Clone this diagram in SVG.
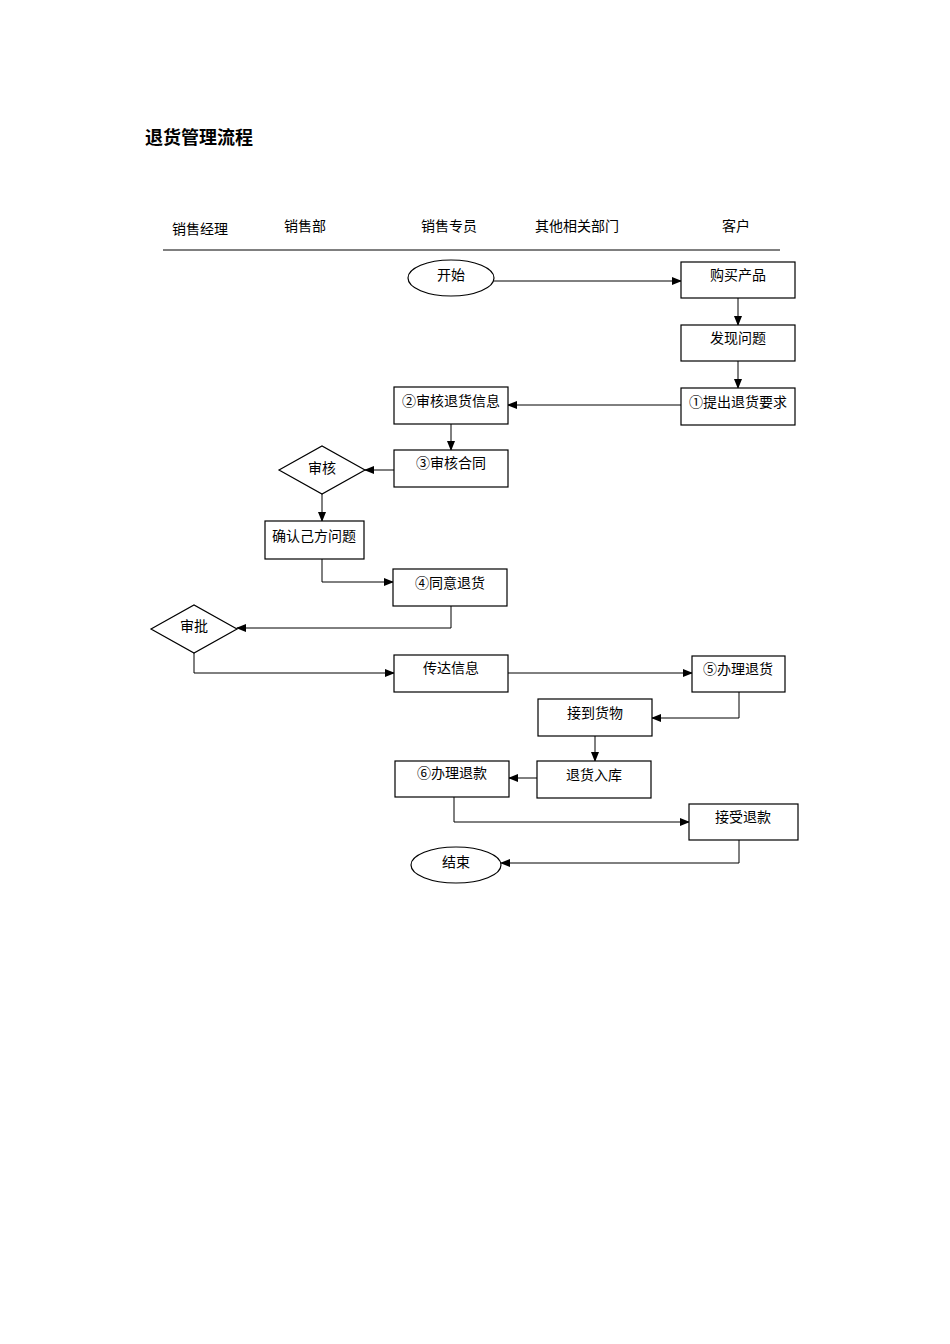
<svg xmlns="http://www.w3.org/2000/svg" width="950" height="1344" viewBox="0 0 950 1344">
<style>
text{font-family:"Liberation Serif","Noto Sans CJK SC",serif;font-size:14px;fill:#000}
.n{fill:#fff;stroke:#000;stroke-width:1.2}
.c{fill:none;stroke:#000;stroke-width:1}
.t{text-anchor:middle}
</style>
<defs><marker id="a" markerWidth="10" markerHeight="8" refX="9" refY="4" orient="auto" markerUnits="userSpaceOnUse"><path d="M0,0L10,4L0,8z" fill="#000"/></marker></defs>
<rect width="950" height="1344" fill="#fff"/>
<text x="145" y="144" style="font-size:18px;font-weight:bold">退货管理流程</text>
<g id="header">
<text x="172" y="234">销售经理</text><text x="284" y="231">销售部</text><text x="421" y="231">销售专员</text><text x="535" y="231">其他相关部门</text><text x="722" y="231">客户</text>
<line x1="163" y1="250" x2="780" y2="250" stroke="#000"/>
</g>
<g id="connectors" marker-end="url(#a)">
<path class="c" d="M494,281H681"/>
<path class="c" d="M738,298V325"/>
<path class="c" d="M738,361V388"/>
<path class="c" d="M681,405H508"/>
<path class="c" d="M451,424V450"/>
<path class="c" d="M394,470H365"/>
<path class="c" d="M322,494V521"/>
<path class="c" d="M322,559V582H393"/>
<path class="c" d="M451,606V628H237"/>
<path class="c" d="M194,653V673H394"/>
<path class="c" d="M508,673H692"/>
<path class="c" d="M739,692V718H652"/>
<path class="c" d="M595,736V761"/>
<path class="c" d="M537,778H509"/>
<path class="c" d="M454,797V822H689"/>
<path class="c" d="M739,840V863H501"/>
</g>
<g id="start"><ellipse class="n" cx="451" cy="278" rx="43" ry="18"/><text class="t" x="451" y="280">开始</text></g>
<g id="buy"><rect class="n" x="681" y="262" width="114" height="36"/><text class="t" x="738" y="280">购买产品</text></g>
<g id="find"><rect class="n" x="681" y="325" width="114" height="36"/><text class="t" x="738" y="343">发现问题</text></g>
<g id="req"><rect class="n" x="681" y="388" width="114" height="37"/><text class="t" x="738" y="407">①提出退货要求</text></g>
<g id="check"><rect class="n" x="394" y="387" width="114" height="37"/><text class="t" x="451" y="406">②审核退货信息</text></g>
<g id="contract"><rect class="n" x="394" y="450" width="114" height="37"/><text class="t" x="451" y="468">③审核合同</text></g>
<g id="audit"><path class="n" d="M279,470L322,446L365,470L322,494z"/><text class="t" x="322" y="473">审核</text></g>
<g id="confirm"><rect class="n" x="265" y="521" width="99" height="38"/><text class="t" x="314" y="541">确认己方问题</text></g>
<g id="agree"><rect class="n" x="393" y="569" width="114" height="37"/><text class="t" x="450" y="588">④同意退货</text></g>
<g id="approve"><path class="n" d="M151,629L194,605L237,629L194,653z"/><text class="t" x="194" y="631">审批</text></g>
<g id="convey"><rect class="n" x="394" y="655" width="114" height="37"/><text class="t" x="451" y="673">传达信息</text></g>
<g id="handle"><rect class="n" x="692" y="656" width="93" height="36"/><text class="t" x="738" y="674">⑤办理退货</text></g>
<g id="receive"><rect class="n" x="538" y="699" width="114" height="37"/><text class="t" x="595" y="718">接到货物</text></g>
<g id="stock"><rect class="n" x="537" y="761" width="114" height="37"/><text class="t" x="594" y="780">退货入库</text></g>
<g id="refund"><rect class="n" x="395" y="761" width="114" height="36"/><text class="t" x="452" y="778">⑥办理退款</text></g>
<g id="accept"><rect class="n" x="689" y="804" width="109" height="36"/><text class="t" x="743" y="822">接受退款</text></g>
<g id="end"><ellipse class="n" cx="456" cy="865" rx="45" ry="18"/><text class="t" x="456" y="867">结束</text></g>
</svg>
